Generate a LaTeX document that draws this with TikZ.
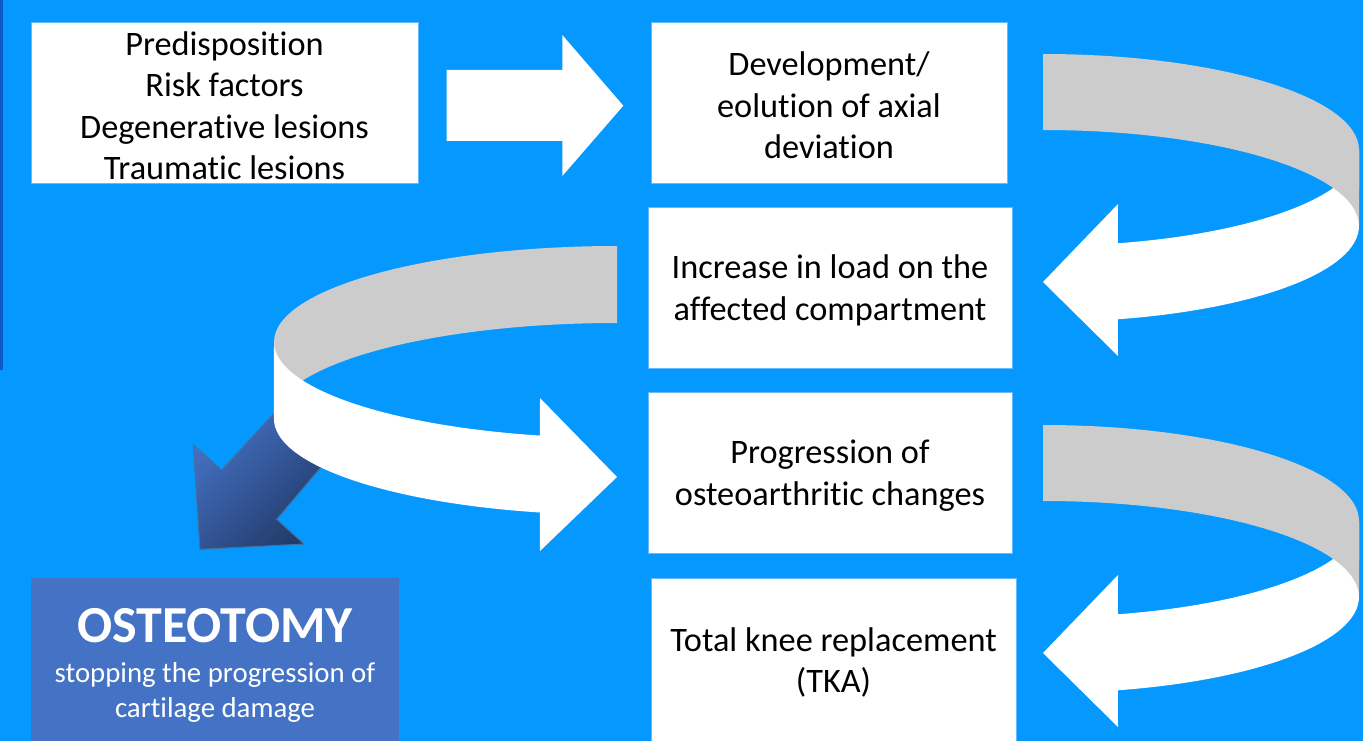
\documentclass[tikz,border=0pt]{standalone}
\usepackage{fontspec}
\setmainfont{Carlito}[Ligatures={NoCommon,NoContextual},RawFeature={-calt;-dlig;-rlig}]
\definecolor{bg}{RGB}{5,152,254}
\definecolor{edge}{RGB}{100,185,255}
\definecolor{bandgray}{RGB}{204,204,204}
\definecolor{osteo}{RGB}{68,114,196}
\definecolor{arrowlight}{RGB}{70,115,200}
\definecolor{arrowdark}{RGB}{32,56,100}
\definecolor{arrowline}{RGB}{65,113,156}
\definecolor{strip}{RGB}{10,90,200}
\begin{document}
\begin{tikzpicture}[x=1pt,y=1pt,
  box/.style={fill=white, draw=edge, line width=0.8pt, inner sep=0pt},
  boxtext/.style={inner sep=0pt, align=center, font=\fontsize{34.3}{41.5}\selectfont, yshift=-3pt},
  frontband/.style={fill=white},
  backband/.style={fill=bandgray}]
\useasboundingbox (0,0) rectangle (1363,-741);
\fill[bg] (0,0) rectangle (1363,-741);
\fill[strip] (0,0) rectangle (2.5,-370);

% boxes
\node[box, minimum width=387pt, minimum height=161pt] (risk) at (224.5,-102.5) {};
\node[boxtext] (risktext) at (risk.center) {Predisposition\\Risk factors\\Degenerative lesions\\Traumatic lesions};
\node[box, minimum width=356pt, minimum height=161pt] (axial) at (829,-102.5) {};
\node[boxtext] (axialtext) at (axial.center) {Development/\\eolution of axial\\deviation};
\node[box, minimum width=364pt, minimum height=161pt] (load) at (830,-287.5) {};
\node[boxtext] (loadtext) at (load.center) {Increase in load on the\\affected compartment};
\node[box, minimum width=364pt, minimum height=161pt] (oa) at (830,-472.5) {};
\node[boxtext] (oatext) at (oa.center) {Progression of\\osteoarthritic changes};
\node[box, minimum width=365pt, minimum height=163pt] (tka) at (833.5,-659.5) {};
\node[boxtext] (tkatext) at (tka.center) {Total knee replacement\\(TKA)};
\node[fill=osteo, minimum width=368pt, minimum height=163pt, inner sep=0pt] (osteo) at (215,-659.5) {};
\node[white, font=\bfseries\fontsize{52}{56}\selectfont, inner sep=0pt] (osteotitle) at (215,-626) {OSTEOTOMY};
\node[white, font=\fontsize{28.8}{35}\selectfont, align=center, inner sep=0pt] (osteotext) at (215,-692.5) {stopping the progression of\\cartilage damage};

% straight arrow
\fill[white] (446.7,-70) -- (562.3,-70) -- (562.3,-35) -- (623.3,-105.7) -- (562.3,-176) -- (562.3,-141) -- (446.7,-141) -- cycle;

% right curls
\foreach \dy in {0,-371}{
\begin{scope}[yshift=\dy pt]
\fill[frontband] (1359,-150) arc[start angle=0,end angle=-76.3,x radius=316,y radius=96] -- (1118,-204) -- (1043,-282) -- (1118,-356) -- (1117.8,-319.3) arc[start angle=-76.3,end angle=0,x radius=316,y radius=96] -- cycle;
\fill[backband] (1043,-54) arc[start angle=90,end angle=0,x radius=316,y radius=96] -- (1359,-226) arc[start angle=0,end angle=90,x radius=316,y radius=96] -- cycle;
\end{scope}
}

% left curl
\fill[backband] (617,-246) arc[start angle=90,end angle=180,x radius=343,y radius=96] -- (274,-419) arc[start angle=180,end angle=90,x radius=343,y radius=96] -- cycle;
\path[draw=arrowline, line width=1pt, top color=arrowlight, bottom color=arrowdark, shading angle=45] (290,-396) -- (221.7,-470) -- (193.3,-445) -- (200,-549.3) -- (304,-544) -- (276.7,-519.3) -- (341.6,-442.8) -- cycle;
\fill[frontband] (274,-342) arc[start angle=180,end angle=257,x radius=343,y radius=96] -- (540,-398) -- (617,-477) -- (540,-551) -- (539.8,-512.5) arc[start angle=257,end angle=180,x radius=343,y radius=96] -- cycle;
\end{tikzpicture}
\end{document}
